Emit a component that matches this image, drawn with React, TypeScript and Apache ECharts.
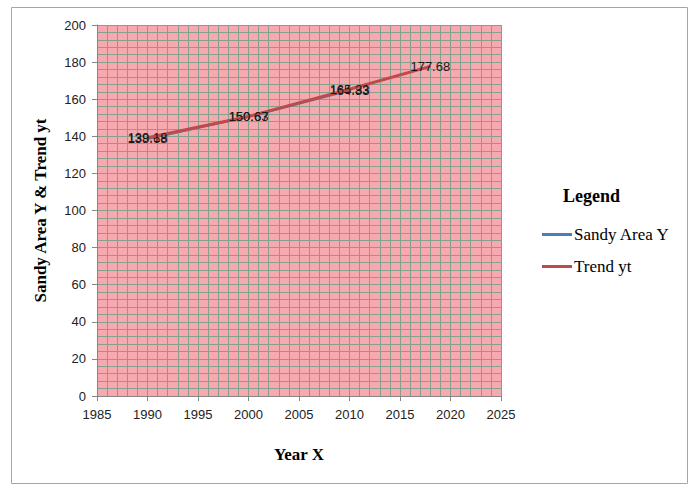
import React, { useEffect, useRef } from "react";
import * as echarts from "echarts";

const sandyYears = [1990, 2000, 2010];
const sandyValues = [138.68, 150.63, 164.83];
const trendYears = [1990, 2000, 2010, 2018];
const trendValues = [139.18, 150.67, 165.33, 177.68];
const seriesNames = ["Sandy Area Y", "Trend yt"];
const xTitle = "Year X";
const yTitle = "Sandy Area Y & Trend yt";
const legendTitle = "Legend";

export default function App() {
  const ref = useRef<HTMLDivElement>(null);
  useEffect(() => {
    if (!ref.current) return;
    const chart = echarts.init(ref.current, undefined, { renderer: "svg" });
    const tickFont = { fontFamily: "Liberation Sans", fontSize: 13, color: "#222" };
    const labelStyle = {
      show: true,
      position: "inside",
      offset: [0, 2],
      fontFamily: "Liberation Sans",
      fontSize: 13,
      color: "#1a1a1a",
      formatter: (p: any) => Number(p.value[1]).toFixed(2),
    };
    const gridLineColor = "#86a08e";
    chart.setOption({
      animation: false,
      backgroundColor: "#ffffff",
      grid: {
        left: 97,
        top: 25,
        width: 404,
        height: 371,
        show: true,
        backgroundColor: "#f6a9ae",
        borderWidth: 0,
      },
      xAxis: {
        type: "value",
        min: 1985,
        max: 2025,
        interval: 5,
        name: xTitle,
        nameLocation: "middle",
        nameGap: 50,
        nameTextStyle: { fontFamily: "Liberation Serif", fontWeight: "bold", fontSize: 17, color: "#000" },
        axisLine: { show: true, lineStyle: { color: "#868686" } },
        axisTick: { show: true, length: 5, lineStyle: { color: "#868686" } },
        axisLabel: { ...tickFont, margin: 12, formatter: (v: number) => String(v) },
        splitLine: { show: true, lineStyle: { color: gridLineColor, width: 1 } },
        minorTick: { show: false, splitNumber: 5 },
        minorSplitLine: { show: true, lineStyle: { color: gridLineColor, width: 1 } },
      },
      yAxis: {
        type: "value",
        min: 0,
        max: 200,
        interval: 20,
        name: yTitle,
        nameLocation: "middle",
        nameGap: 48,
        nameTextStyle: { fontFamily: "Liberation Serif", fontWeight: "bold", fontSize: 17, color: "#000" },
        axisLine: { show: true, lineStyle: { color: "#868686" } },
        axisTick: { show: true, length: 5, lineStyle: { color: "#868686" } },
        axisLabel: { ...tickFont, margin: 11 },
        splitLine: { show: true, lineStyle: { color: gridLineColor, width: 1 } },
        minorTick: { show: false, splitNumber: 5 },
        minorSplitLine: { show: true, lineStyle: { color: gridLineColor, width: 1 } },
      },
      legend: {
        orient: "vertical",
        left: 537,
        top: 221,
        itemWidth: 30,
        itemHeight: 3,
        itemGap: 15,
        icon: "rect",
        textStyle: { fontFamily: "Liberation Serif", fontSize: 17, color: "#000", padding: [0, 0, 0, -3] },
        data: seriesNames,
      },
      graphic: [
        {
          type: "rect",
          shape: { x: 11.5, y: 7.5, width: 676, height: 476 },
          style: { fill: "none", stroke: "#a6a6a6", lineWidth: 1 },
          silent: true,
          z: -10,
        },
        {
          type: "text",
          left: 563,
          top: 187,
          style: {
            text: legendTitle,
            fontFamily: "Liberation Serif",
            fontWeight: "bold",
            fontSize: 18,
            fill: "#000",
          },
        },
      ],
      series: [
        {
          name: seriesNames[0],
          type: "line",
          showSymbol: true,
          showAllSymbol: true,
          symbol: "circle",
          symbolSize: 1,
          lineStyle: { color: "#4a7ebb", width: 2.5 },
          itemStyle: { color: "#4a7ebb" },
          label: labelStyle,
          labelLayout: { hideOverlap: false },
          data: sandyYears.map((y, i) => ({
            value: [y, sandyValues[i]],
          })),
          z: 2,
        },
        {
          name: seriesNames[1],
          type: "line",
          showSymbol: true,
          showAllSymbol: true,
          symbol: "circle",
          symbolSize: 1,
          lineStyle: { color: "#be4b48", width: 3 },
          itemStyle: { color: "#be4b48" },
          label: labelStyle,
          labelLayout: { hideOverlap: false },
          data: trendYears.map((y, i) => ({
            value: [y, trendValues[i]],
            label: i === trendYears.length - 1 ? { offset: [20, 2] } : undefined,
          })),
          z: 3,
        },
      ],
    });
    return () => chart.dispose();
  }, []);
  return (
    <div
      ref={ref}
      style={{ position: "fixed", left: 0, top: 0, width: 690, height: 487 }}
    />
  );
}
